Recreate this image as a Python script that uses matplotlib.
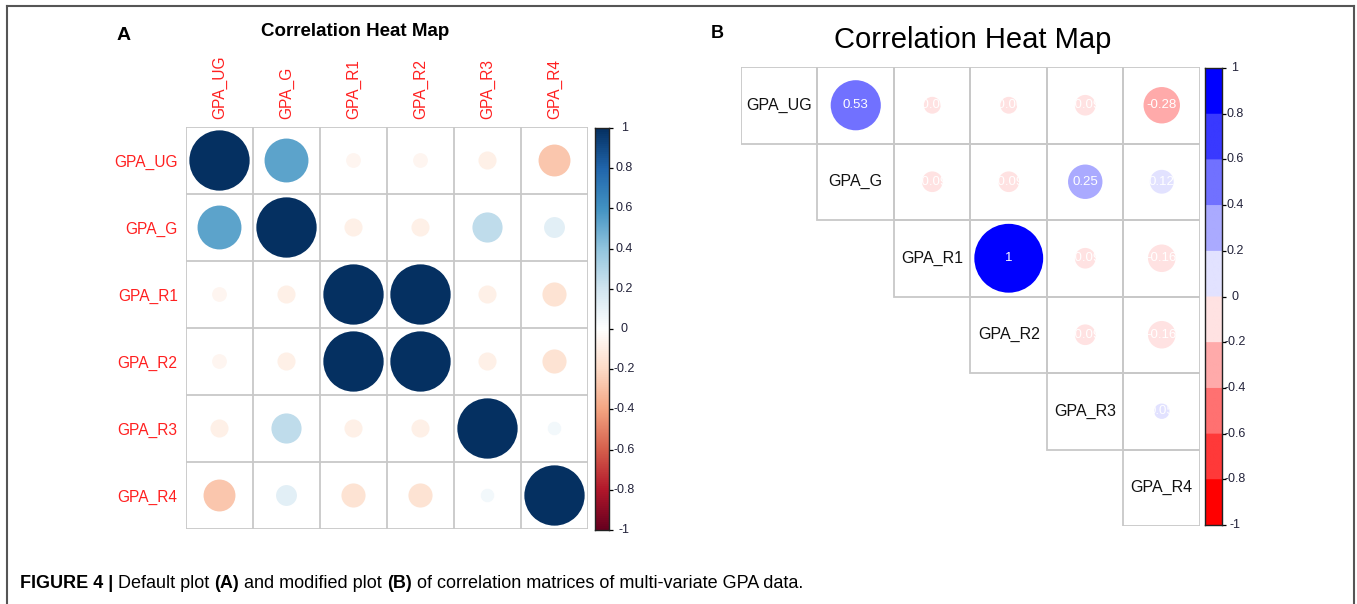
import numpy as np
import matplotlib
matplotlib.use("Agg")
from matplotlib import pyplot as plt
from matplotlib.colors import LinearSegmentedColormap, ListedColormap, BoundaryNorm, Normalize
from matplotlib.patches import Circle, Rectangle
from matplotlib.lines import Line2D

plt.rcParams['font.family'] = ['Liberation Sans', 'DejaVu Sans']

labels = ['GPA_UG', 'GPA_G', 'GPA_R1', 'GPA_R2', 'GPA_R3', 'GPA_R4']
corr = [
    [1.00, 0.53, -0.06, -0.06, -0.09, -0.28],
    [0.53, 1.00, -0.09, -0.09, 0.25, 0.12],
    [-0.06, -0.09, 1.00, 1.00, -0.09, -0.16],
    [-0.06, -0.09, 1.00, 1.00, -0.09, -0.16],
    [-0.09, 0.25, -0.09, -0.09, 1.00, 0.05],
    [-0.28, 0.12, -0.16, -0.16, 0.05, 1.00],
]
cbar_ticks = [-1, -0.8, -0.6, -0.4, -0.2, 0, 0.2, 0.4, 0.6, 0.8, 1]
cbar_labels = ['-1', '-0.8', '-0.6', '-0.4', '-0.2', '0', '0.2', '0.4', '0.6', '0.8', '1']

# colours: corrplot default RdBu, and the red-white-blue palette in 10 steps
rdbu = ['#67001F', '#B2182B', '#D6604D', '#F4A582', '#FDDBC7', '#FFFFFF',
        '#D1E5F0', '#92C5DE', '#4393C3', '#2166AC', '#053061']
rwb = ['#FF0000', '#FF3939', '#FF7171', '#FFAAAA', '#FFE2E2',
       '#E2E2FF', '#AAAAFF', '#7171FF', '#3939FF', '#0000FF']
cmap_a = LinearSegmentedColormap.from_list('rdbu', rdbu, N=200)
norm_a = Normalize(-1, 1)
cmap_b = ListedColormap(rwb)
norm_b = BoundaryNorm(np.linspace(-1, 1, 11), 10)

W, H = 1357, 604
fig = plt.figure(figsize=(W / 100, H / 100), dpi=100)


def px_axes(x0, y0, x1, y1):
    return fig.add_axes([x0 / W, 1 - y1 / H, (x1 - x0) / W, (y1 - y0) / H])


def fmt(v):
    s = f"{v:.2f}".rstrip('0').rstrip('.')
    return s


def colorbar(ax, cmap, norm, lab_x):
    grad = np.linspace(-1, 1, 400).reshape(-1, 1)
    ax.imshow(grad, cmap=cmap, norm=norm, aspect='auto', origin='lower',
              extent=(0, 1, -1, 1))
    ax.set_xticks([])
    ax.yaxis.tick_right()
    ax.set_yticks(cbar_ticks)
    ax.set_yticklabels([])
    ax.tick_params(axis='y', length=3, width=0.9)
    # labels centred a bit right of the bar, like corrplot does
    for v, s in zip(cbar_ticks, cbar_labels):
        ax.text(lab_x, v, s, transform=ax.get_yaxis_transform(), ha='center',
                va='center', fontsize=9, color='#22223a', clip_on=False)
    for sp in ax.spines.values():
        sp.set_linewidth(1.0)
        sp.set_color('#222222')


n = len(labels)
grid_col = '#c8c8c8'

# ---- panel A: default corrplot
ax_a = px_axes(186, 127, 588, 529)
ax_a.set_xlim(0, n)
ax_a.set_ylim(n, 0)
for i in range(n):
    for j in range(n):
        r = corr[i][j]
        ax_a.add_patch(Circle((j + 0.5, i + 0.5), 0.45 * np.sqrt(abs(r)),
                              color=cmap_a(norm_a(r)), lw=0))
for k in range(n + 1):
    ax_a.axhline(k, color=grid_col, lw=1.3)
    ax_a.axvline(k, color=grid_col, lw=1.3)
ax_a.set_xticks(np.arange(n) + 0.5)
ax_a.set_xticklabels(labels, rotation=90, color='#ff2020', fontsize=11.2)
ax_a.xaxis.tick_top()
ax_a.set_yticks(np.arange(n) + 0.5)
ax_a.set_yticklabels(labels, color='#ff2020', fontsize=11.2)
ax_a.tick_params(length=0, pad=6)
for sp in ax_a.spines.values():
    sp.set_visible(False)

cax_a = px_axes(595, 128, 609, 530)
colorbar(cax_a, cmap_a, norm_a, lab_x=2.1)

fig.text(355 / W, 1 - 32 / H, 'Correlation Heat Map', ha='center', va='center',
         fontsize=13.5, fontweight='bold')
fig.text(124 / W, 1 - 35 / H, 'A', ha='center', va='center',
         fontsize=14, fontweight='bold')

# ---- panel B: upper triangle, labels on diagonal, numbers in circles
ax_b = px_axes(741, 67, 1200, 526)
ax_b.set_xlim(0, n)
ax_b.set_ylim(n, 0)
ax_b.axis('off')
for i in range(n):
    for j in range(i, n):
        ax_b.add_patch(Rectangle((j, i), 1, 1, fill=False, ec=grid_col, lw=1.3))
        r = corr[i][j]
        if j == i:
            ax_b.text(j + 0.5, i + 0.5, labels[i], ha='center', va='center',
                      fontsize=11.5, color='#111111')
        else:
            ax_b.add_patch(Circle((j + 0.5, i + 0.5), 0.45 * np.sqrt(abs(r)),
                                  color=cmap_b(norm_b(r)), lw=0))
            ax_b.text(j + 0.5, i + 0.5, fmt(r), ha='center', va='center',
                      fontsize=9.5, color='white')

cax_b = px_axes(1205, 68, 1222, 525)
colorbar(cax_b, cmap_b, norm_b, lab_x=1.75)

fig.text(973 / W, 1 - 40 / H, 'Correlation Heat Map', ha='center', va='center',
         fontsize=21)
fig.text(717 / W, 1 - 33 / H, 'B', ha='center', va='center',
         fontsize=13, fontweight='bold')

# ---- caption, mixed bold / regular pieces placed one after the other
caption = [('FIGURE 4 |', 'bold'), (' Default plot ', 'normal'), ('(A)', 'bold'),
           (' and modified plot ', 'normal'), ('(B)', 'bold'),
           (' of correlation matrices of multi-variate GPA data.', 'normal')]
renderer = fig.canvas.get_renderer()
x = 20
for txt, wt in caption:
    t = fig.text(x / W, 1 - 583 / H, txt, ha='left', va='center', fontsize=13,
                 fontweight=wt)
    bb = t.get_window_extent(renderer)
    x += bb.width

# frame round the figure
for xs, ys in [((7, 7), (6, 604)), ((7, 1354), (6, 6)), ((1354, 1354), (6, 604))]:
    fig.add_artist(Line2D([v / W for v in xs], [1 - v / H for v in ys],
                          color='#555555', lw=1.5))

fig.savefig('out.png', dpi=100)
